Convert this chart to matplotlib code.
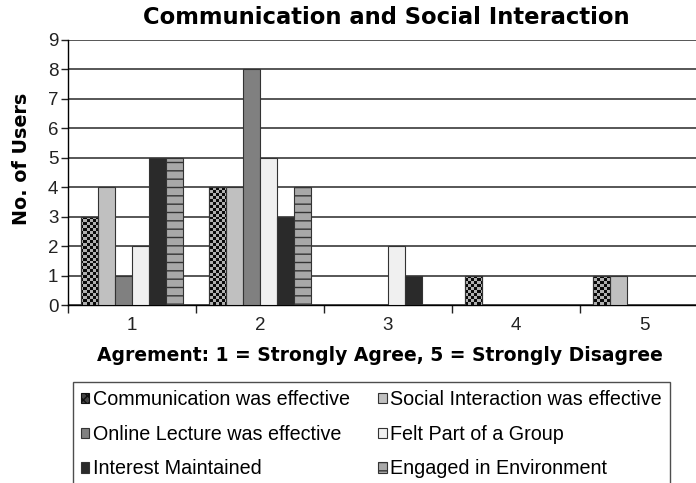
import numpy as np
import matplotlib
matplotlib.use("Agg")
import matplotlib.pyplot as plt
from matplotlib.patches import Patch
from matplotlib.colors import ListedColormap

plt.rcParams['font.family'] = ['Liberation Sans', 'DejaVu Sans']

categories = ['1', '2', '3', '4', '5']
series_names = ['Communication was effective', 'Social Interaction was effective',
                'Online Lecture was effective', 'Felt Part of a Group',
                'Interest Maintained', 'Engaged in Environment']
communication = [3, 4, 0, 1, 1]
social = [4, 4, 0, 0, 1]
online = [1, 8, 0, 0, 0]
felt = [2, 5, 2, 0, 0]
interest = [5, 3, 1, 0, 0]
engaged = [5, 4, 0, 0, 0]
series_values = [communication, social, online, felt, interest, engaged]
yticks = list(range(0, 10))

colors = ['#111111', '#c0c0c0', '#808080', '#f0f0f0', '#2a2a2a', '#a8a8a8']
hatches = [None, None, None, None, None, '--']

fig = plt.figure(figsize=(6.96, 4.83), dpi=100)
ax = fig.add_axes([68/696, 1-305/483, 640/696, 265/483])

x = np.arange(1, len(categories) + 1)
n = len(series_values)
w = 0.8 / n
bar_containers = []
for i, vals in enumerate(series_values):
    off = (i - (n - 1) / 2) * w
    bc = ax.bar(x + off, vals, width=w, color=colors[i], edgecolor='#333333',
                linewidth=0.8, hatch=hatches[i], zorder=3)
    bar_containers.append(bc)

ax.set_xlim(0.5, 5.5)
ax.set_ylim(0, 9)

# checkerboard texture for the first series
cw, ch = 213, 90
yy, xx = np.mgrid[0:ch, 0:cw]
checker = ((xx + yy) % 2).astype(float)
cmap = ListedColormap(['#0a0a0a', '#b0b0b0'])
for bar in bar_containers[0]:
    if bar.get_height() <= 0:
        continue
    im = ax.imshow(checker, extent=(0.5, 5.5, 0, 9), cmap=cmap, interpolation='nearest',
                   aspect='auto', zorder=3.5, origin='lower')
    im.set_clip_path(bar)
    ax.add_patch(plt.Rectangle(bar.get_xy(), bar.get_width(), bar.get_height(),
                               facecolor='none', edgecolor='#333333', linewidth=0.8, zorder=3.6))
ax.set_xlim(0.5, 5.5)
ax.set_ylim(0, 9)

ax.set_yticks(yticks)
ax.yaxis.grid(True, color='#3a3a3a', linewidth=1.2, zorder=1)
ax.set_axisbelow(True)
ax.set_xticks(x)
ax.set_xticklabels(categories)
ax.set_xticks(np.arange(0.5, 6.0, 1.0), minor=True)
ax.tick_params(axis='x', which='major', length=0, labelsize=13.5, pad=9, colors='#222222')
ax.tick_params(axis='x', which='minor', length=6, width=1, color='#222222')
ax.tick_params(axis='y', length=5, width=1, labelsize=13.5, pad=2, colors='#222222')
for s in ['top', 'right']:
    ax.spines[s].set_visible(False)
ax.spines['left'].set_linewidth(1.0)
ax.spines['bottom'].set_linewidth(1.0)

ax.set_ylabel('No. of Users', fontsize=13.8, fontweight='bold', family='DejaVu Sans')
ax.yaxis.set_label_coords(-(68-31)/640, (305-159)/265)
ax.set_xlabel('Agrement: 1 = Strongly Agree, 5 = Strongly Disagree', fontsize=13.5,
              fontweight='bold', family='DejaVu Sans')
ax.xaxis.set_label_coords((380-68)/640, -(41/265))
fig.text(386/696, 1-18/483, 'Communication and Social Interaction', fontsize=16.3,
         fontweight='bold', ha='center', va='center', family='DejaVu Sans')

handles = []
for i in range(n):
    if i == 0:
        handles.append(Patch(facecolor='#444444', edgecolor='#111111', hatch='xxxx', linewidth=0.8))
    else:
        handles.append(Patch(facecolor=colors[i], edgecolor='#333333', hatch=hatches[i], linewidth=0.8))
order = [0, 2, 4, 1, 3, 5]
leg = fig.legend([handles[k] for k in order], [series_names[k] for k in order], ncol=2,
                 loc='upper left', bbox_to_anchor=(73/696, 1-382/483), borderaxespad=0,
                 frameon=True, fancybox=False, edgecolor='#222222', fontsize=14.2,
                 handlelength=0.42, handleheight=0.42, handletextpad=0.18,
                 columnspacing=1.45, labelspacing=0.8, borderpad=0.4)
leg.get_frame().set_linewidth(1.0)

fig.savefig('out.png', dpi=100)
